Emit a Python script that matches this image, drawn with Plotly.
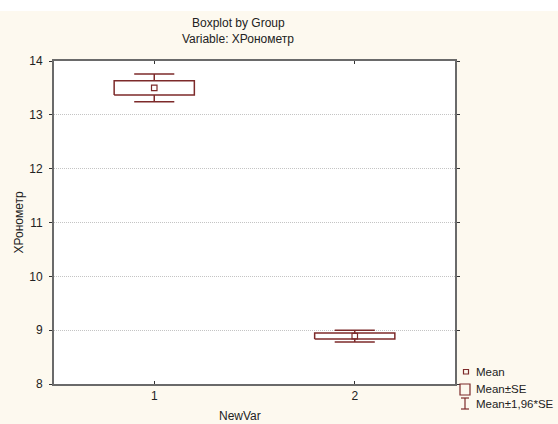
import plotly.graph_objects as go

# ---- data ----
groups = [1, 2]
group_labels = ["1", "2"]
means = [13.50, 8.89]
se = [0.132, 0.056]
y_ticks = [8, 9, 10, 11, 12, 13, 14]

RED = "#7d2a2a"
FRAME = "#6a6a6a"
BG = "#fdf9ef"
FONT = "Liberation Sans, Arial, sans-serif"

BOX_HALF = 0.2     # box half width (x units)
CAP_HALF = 0.1     # whisker cap half width (x units)

# build box outlines and whiskers from the data
bx, by, wx, wy = [], [], [], []
for g, m, s in zip(groups, means, se):
    lo, hi = m - s, m + s
    bx += [g - BOX_HALF, g + BOX_HALF, g + BOX_HALF, g - BOX_HALF, g - BOX_HALF, None]
    by += [lo, lo, hi, hi, lo, None]
    wlo, whi = m - 1.96 * s, m + 1.96 * s
    wx += [g, g, None, g - CAP_HALF, g + CAP_HALF, None,
           g, g, None, g - CAP_HALF, g + CAP_HALF, None]
    wy += [hi, whi, None, whi, whi, None,
           lo, wlo, None, wlo, wlo, None]

fig = go.Figure()
fig.add_trace(go.Scatter(x=bx, y=by, mode="lines", line=dict(color=RED, width=1.5),
                         hoverinfo="skip", showlegend=False))
fig.add_trace(go.Scatter(x=wx, y=wy, mode="lines", line=dict(color=RED, width=1.5),
                         hoverinfo="skip", showlegend=False))
fig.add_trace(go.Scatter(x=groups, y=means, mode="markers",
                         marker=dict(symbol="square-open", size=5.5, color=RED, line=dict(width=1.2)),
                         showlegend=False))

L, R, T, B = 54, 103, 61, 40
W, H = 558, 424
pw, ph = W - L - R, H - T - B


def px(x):
    return (x - L) / pw


def py(y):
    return (H - B - y) / ph


shapes = [
    # white strip at the very top of the picture
    dict(type="rect", xref="paper", yref="paper", x0=px(0), x1=px(W), y0=py(11), y1=py(0),
         fillcolor="white", line=dict(width=0), layer="below"),
    # legend icons
    dict(type="rect", xref="paper", yref="paper", x0=px(463.5), x1=px(468.5), y0=py(374), y1=py(369.5),
         line=dict(color=RED, width=1.2), fillcolor="rgba(0,0,0,0)"),
    dict(type="rect", xref="paper", yref="paper", x0=px(460), x1=px(470), y0=py(395), y1=py(384),
         line=dict(color=RED, width=1.2), fillcolor="rgba(0,0,0,0)"),
    dict(type="line", xref="paper", yref="paper", x0=px(465), x1=px(465), y0=py(409), y1=py(398),
         line=dict(color=RED, width=1.2)),
    dict(type="line", xref="paper", yref="paper", x0=px(461), x1=px(469), y0=py(398), y1=py(398),
         line=dict(color=RED, width=1.2)),
    dict(type="line", xref="paper", yref="paper", x0=px(461), x1=px(469), y0=py(409), y1=py(409),
         line=dict(color=RED, width=1.2)),
]

legend_items = [("Mean", 372), ("Mean±SE", 389), ("Mean±1,96*SE", 403.5)]
annotations = [
    dict(text="Boxplot by Group", xref="paper", yref="paper", x=px(238), y=py(23),
         showarrow=False, xanchor="center", yanchor="middle", font=dict(size=12)),
    dict(text="Variable: ХРонометр", xref="paper", yref="paper", x=px(238), y=py(39),
         showarrow=False, xanchor="center", yanchor="middle", font=dict(size=12)),
    dict(text="NewVar", xref="paper", yref="paper", x=px(240), y=py(416),
         showarrow=False, xanchor="center", yanchor="middle", font=dict(size=12)),
    dict(text="ХРонометр", xref="paper", yref="paper", x=px(18), y=0.5, textangle=-90,
         showarrow=False, xanchor="center", yanchor="middle", font=dict(size=12)),
]
for txt, yy in legend_items:
    annotations.append(dict(text=txt, xref="paper", yref="paper", x=px(474), y=py(yy),
                            showarrow=False, xanchor="left", yanchor="middle", font=dict(size=11.5)))

fig.update_layout(
    width=W, height=H,
    margin=dict(l=L, r=R, t=T, b=B, pad=0),
    paper_bgcolor=BG, plot_bgcolor="white",
    font=dict(family=FONT, size=12, color="#222222"),
    shapes=shapes, annotations=annotations,
    showlegend=False,
    xaxis=dict(range=[0.5, 2.5], tickvals=groups, ticktext=group_labels,
               showgrid=False, zeroline=False, showline=True, linecolor=FRAME, linewidth=2,
               mirror="ticks", ticks="inside", ticklen=3, tickcolor="#333333", tickwidth=1,
               fixedrange=True),
    yaxis=dict(range=[8, 14], tickvals=y_ticks, showgrid=True, gridcolor="#c4c4c4",
               griddash="1px,1px", gridwidth=1, zeroline=False, showline=True, linecolor=FRAME,
               linewidth=2, mirror="ticks", ticks="outside", ticklen=3, tickcolor="#333333",
               tickwidth=1, ticklabelstandoff=4, fixedrange=True),
)

fig.write_html("out.html", config={"displayModeBar": False},
               post_script="document.body.style.margin='0px';")
